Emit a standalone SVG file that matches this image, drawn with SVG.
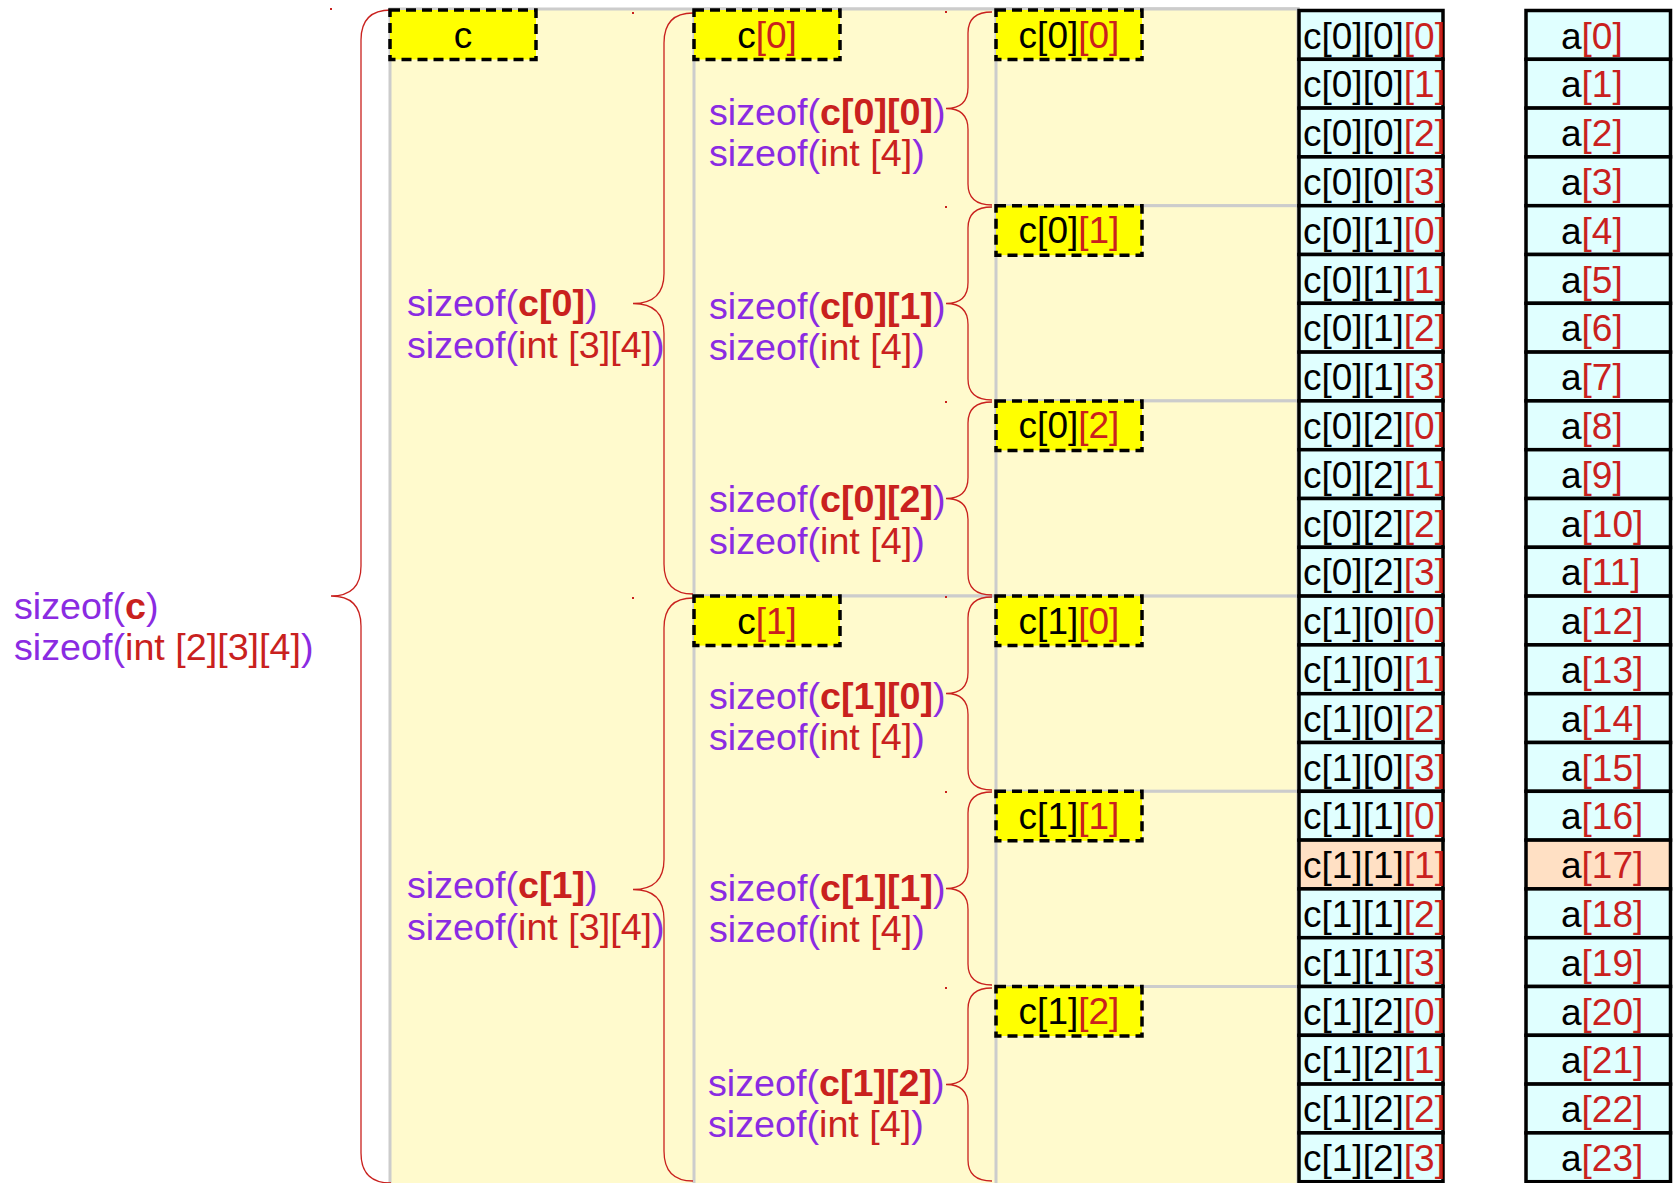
<svg xmlns="http://www.w3.org/2000/svg" width="1674" height="1183" viewBox="0 0 1674 1183">
<defs>
<style>
text{font-family:"Liberation Sans",Arial,sans-serif;font-size:37px;fill:#000}
.p{fill:#8a2be2;font-size:37.7px}
.r{fill:#c9211e}
.b{font-weight:bold}
.cell{fill:#e0ffff;stroke:#000;stroke-width:3.5}
.hl{fill:#ffe0c4;stroke:#000;stroke-width:3.5}
.box{fill:#ffff00;stroke:#000;stroke-width:3.5;stroke-dasharray:10 6}
.bg{fill:#fffacd;stroke:#cccccc;stroke-width:3}
.brace{fill:none;stroke:#c9211e;stroke-width:1.3}
.dot{fill:#c9211e}
.ct{text-anchor:middle}
</style>
</defs>
<rect width="1674" height="1183" fill="#fff"/>

<g id="regions">
<rect class="bg" x="390" y="9" width="908" height="1180"/>
<rect class="bg" x="694" y="9" width="604" height="587"/>
<rect class="bg" x="694" y="596" width="604" height="593"/>
<rect class="bg" x="996" y="9" width="302" height="196.7"/>
<rect class="bg" x="996" y="205.7" width="302" height="195.2"/>
<rect class="bg" x="996" y="400.9" width="302" height="195.2"/>
<rect class="bg" x="996" y="596.1" width="302" height="195.2"/>
<rect class="bg" x="996" y="791.3" width="302" height="195.2"/>
<rect class="bg" x="996" y="986.5" width="302" height="202"/>
</g>

<g id="connectors">
<path class="brace" d="M391,10 Q361,10 361,40 L361,566 Q361,596 331,596 Q361,596 361,626 L361,1153 Q361,1183 391,1183"/>
<path class="brace" d="M693,13 Q664,13 664,43 L664,273.5 Q664,303.5 633,303.5 Q664,303.5 664,333.5 L664,564 Q664,594 693,594"/>
<path class="brace" d="M693,598 Q664,598 664,628 L664,859.5 Q664,889.5 633,889.5 Q664,889.5 664,919.5 L664,1151 Q664,1181 693,1181"/>
<path class="brace" d="M992,12 Q968,12 968,33 L968,87.5 Q968,108.5 946,108.5 Q968,108.5 968,129.5 L968,184 Q968,205 992,205"/>
<path class="brace" d="M992,207 Q968,207 968,228 L968,282.5 Q968,303.5 946,303.5 Q968,303.5 968,324.5 L968,379 Q968,400 992,400"/>
<path class="brace" d="M992,402 Q968,402 968,423 L968,477.5 Q968,498.5 946,498.5 Q968,498.5 968,519.5 L968,574 Q968,595 992,595"/>
<path class="brace" d="M992,597 Q968,597 968,618 L968,672.5 Q968,693.5 946,693.5 Q968,693.5 968,714.5 L968,769 Q968,790 992,790"/>
<path class="brace" d="M992,792 Q968,792 968,813 L968,867.5 Q968,888.5 946,888.5 Q968,888.5 968,909.5 L968,964 Q968,985 992,985"/>
<path class="brace" d="M992,988 Q968,988 968,1009 L968,1063.5 Q968,1084.5 946,1084.5 Q968,1084.5 968,1105.5 L968,1160 Q968,1181 992,1181"/>
<rect class="dot" x="330" y="8" width="2" height="2"/>
<rect class="dot" x="632" y="12" width="2" height="2"/>
<rect class="dot" x="632" y="597" width="2" height="2"/>
<rect class="dot" x="945" y="11" width="2" height="2"/>
<rect class="dot" x="945" y="206" width="2" height="2"/>
<rect class="dot" x="945" y="401" width="2" height="2"/>
<rect class="dot" x="945" y="596" width="2" height="2"/>
<rect class="dot" x="945" y="791" width="2" height="2"/>
<rect class="dot" x="945" y="987" width="2" height="2"/>
</g>

<g id="box-c"><rect class="box" x="390" y="10" width="146" height="49.5"/><text class="ct" x="463" y="47.5">c</text></g>
<g id="box-c0"><rect class="box" x="694" y="10" width="146" height="49.5"/><text class="ct" x="767" y="47.5">c<tspan class="r">[0]</tspan></text></g>
<g id="box-c1"><rect class="box" x="694" y="596.1" width="146" height="49.5"/><text class="ct" x="767" y="633.6">c<tspan class="r">[1]</tspan></text></g>
<g id="box-c00"><rect class="box" x="996" y="10" width="146" height="49.5"/><text class="ct" x="1069" y="47.5">c[0]<tspan class="r">[0]</tspan></text></g>
<g id="box-c01"><rect class="box" x="996" y="205.7" width="146" height="49.5"/><text class="ct" x="1069" y="243.2">c[0]<tspan class="r">[1]</tspan></text></g>
<g id="box-c02"><rect class="box" x="996" y="400.9" width="146" height="49.5"/><text class="ct" x="1069" y="438.4">c[0]<tspan class="r">[2]</tspan></text></g>
<g id="box-c10"><rect class="box" x="996" y="596.1" width="146" height="49.5"/><text class="ct" x="1069" y="633.6">c[1]<tspan class="r">[0]</tspan></text></g>
<g id="box-c11"><rect class="box" x="996" y="791.3" width="146" height="49.5"/><text class="ct" x="1069" y="828.8">c[1]<tspan class="r">[1]</tspan></text></g>
<g id="box-c12"><rect class="box" x="996" y="986.5" width="146" height="49.5"/><text class="ct" x="1069" y="1024">c[1]<tspan class="r">[2]</tspan></text></g>

<g id="label-c"><text class="p" x="14" y="619">sizeof(<tspan class="r b">c</tspan>)</text><text class="p" x="14" y="660">sizeof(<tspan class="r">int [2][3][4]</tspan>)</text></g>
<g id="label-c0"><text class="p" x="407" y="316">sizeof(<tspan class="r b">c[0]</tspan>)</text><text class="p" x="407" y="358">sizeof(<tspan class="r">int [3][4]</tspan>)</text></g>
<g id="label-c1"><text class="p" x="407" y="898">sizeof(<tspan class="r b">c[1]</tspan>)</text><text class="p" x="407" y="940">sizeof(<tspan class="r">int [3][4]</tspan>)</text></g>
<g id="label-c00"><text class="p" x="709" y="125">sizeof(<tspan class="r b">c[0][0]</tspan>)</text><text class="p" x="709" y="166">sizeof(<tspan class="r">int [4]</tspan>)</text></g>
<g id="label-c01"><text class="p" x="709" y="319">sizeof(<tspan class="r b">c[0][1]</tspan>)</text><text class="p" x="709" y="360">sizeof(<tspan class="r">int [4]</tspan>)</text></g>
<g id="label-c02"><text class="p" x="709" y="512">sizeof(<tspan class="r b">c[0][2]</tspan>)</text><text class="p" x="709" y="554">sizeof(<tspan class="r">int [4]</tspan>)</text></g>
<g id="label-c10"><text class="p" x="709" y="709">sizeof(<tspan class="r b">c[1][0]</tspan>)</text><text class="p" x="709" y="750">sizeof(<tspan class="r">int [4]</tspan>)</text></g>
<g id="label-c11"><text class="p" x="709" y="901">sizeof(<tspan class="r b">c[1][1]</tspan>)</text><text class="p" x="709" y="942">sizeof(<tspan class="r">int [4]</tspan>)</text></g>
<g id="label-c12"><text class="p" x="708" y="1096">sizeof(<tspan class="r b">c[1][2]</tspan>)</text><text class="p" x="708" y="1137">sizeof(<tspan class="r">int [4]</tspan>)</text></g>

<g id="mem">
<g id="m0"><rect class="cell" x="1299" y="10.5" width="144" height="48.8"/><text x="1303" y="48.5">c[0][0]<tspan class="r">[0]</tspan></text></g>
<g id="m1"><rect class="cell" x="1299" y="59.3" width="144" height="48.8"/><text x="1303" y="97.3">c[0][0]<tspan class="r">[1]</tspan></text></g>
<g id="m2"><rect class="cell" x="1299" y="108.1" width="144" height="48.8"/><text x="1303" y="146.1">c[0][0]<tspan class="r">[2]</tspan></text></g>
<g id="m3"><rect class="cell" x="1299" y="156.9" width="144" height="48.8"/><text x="1303" y="194.9">c[0][0]<tspan class="r">[3]</tspan></text></g>
<g id="m4"><rect class="cell" x="1299" y="205.7" width="144" height="48.8"/><text x="1303" y="243.7">c[0][1]<tspan class="r">[0]</tspan></text></g>
<g id="m5"><rect class="cell" x="1299" y="254.5" width="144" height="48.8"/><text x="1303" y="292.5">c[0][1]<tspan class="r">[1]</tspan></text></g>
<g id="m6"><rect class="cell" x="1299" y="303.3" width="144" height="48.8"/><text x="1303" y="341.3">c[0][1]<tspan class="r">[2]</tspan></text></g>
<g id="m7"><rect class="cell" x="1299" y="352.1" width="144" height="48.8"/><text x="1303" y="390.1">c[0][1]<tspan class="r">[3]</tspan></text></g>
<g id="m8"><rect class="cell" x="1299" y="400.9" width="144" height="48.8"/><text x="1303" y="438.9">c[0][2]<tspan class="r">[0]</tspan></text></g>
<g id="m9"><rect class="cell" x="1299" y="449.7" width="144" height="48.8"/><text x="1303" y="487.7">c[0][2]<tspan class="r">[1]</tspan></text></g>
<g id="m10"><rect class="cell" x="1299" y="498.5" width="144" height="48.8"/><text x="1303" y="536.5">c[0][2]<tspan class="r">[2]</tspan></text></g>
<g id="m11"><rect class="cell" x="1299" y="547.3" width="144" height="48.8"/><text x="1303" y="585.3">c[0][2]<tspan class="r">[3]</tspan></text></g>
<g id="m12"><rect class="cell" x="1299" y="596.1" width="144" height="48.8"/><text x="1303" y="634.1">c[1][0]<tspan class="r">[0]</tspan></text></g>
<g id="m13"><rect class="cell" x="1299" y="644.9" width="144" height="48.8"/><text x="1303" y="682.9">c[1][0]<tspan class="r">[1]</tspan></text></g>
<g id="m14"><rect class="cell" x="1299" y="693.7" width="144" height="48.8"/><text x="1303" y="731.7">c[1][0]<tspan class="r">[2]</tspan></text></g>
<g id="m15"><rect class="cell" x="1299" y="742.5" width="144" height="48.8"/><text x="1303" y="780.5">c[1][0]<tspan class="r">[3]</tspan></text></g>
<g id="m16"><rect class="cell" x="1299" y="791.3" width="144" height="48.8"/><text x="1303" y="829.3">c[1][1]<tspan class="r">[0]</tspan></text></g>
<g id="m17"><rect class="hl" x="1299" y="840.1" width="144" height="48.8"/><text x="1303" y="878.1">c[1][1]<tspan class="r">[1]</tspan></text></g>
<g id="m18"><rect class="cell" x="1299" y="888.9" width="144" height="48.8"/><text x="1303" y="926.9">c[1][1]<tspan class="r">[2]</tspan></text></g>
<g id="m19"><rect class="cell" x="1299" y="937.7" width="144" height="48.8"/><text x="1303" y="975.7">c[1][1]<tspan class="r">[3]</tspan></text></g>
<g id="m20"><rect class="cell" x="1299" y="986.5" width="144" height="48.8"/><text x="1303" y="1024.5">c[1][2]<tspan class="r">[0]</tspan></text></g>
<g id="m21"><rect class="cell" x="1299" y="1035.3" width="144" height="48.8"/><text x="1303" y="1073.3">c[1][2]<tspan class="r">[1]</tspan></text></g>
<g id="m22"><rect class="cell" x="1299" y="1084.1" width="144" height="48.8"/><text x="1303" y="1122.1">c[1][2]<tspan class="r">[2]</tspan></text></g>
<g id="m23"><rect class="cell" x="1299" y="1132.9" width="144" height="48.8"/><text x="1303" y="1170.9">c[1][2]<tspan class="r">[3]</tspan></text></g>
</g>

<g id="arr">
<g id="a0"><rect class="cell" x="1526" y="10.5" width="144.5" height="48.8"/><text x="1561" y="48.5">a<tspan class="r">[0]</tspan></text></g>
<g id="a1"><rect class="cell" x="1526" y="59.3" width="144.5" height="48.8"/><text x="1561" y="97.3">a<tspan class="r">[1]</tspan></text></g>
<g id="a2"><rect class="cell" x="1526" y="108.1" width="144.5" height="48.8"/><text x="1561" y="146.1">a<tspan class="r">[2]</tspan></text></g>
<g id="a3"><rect class="cell" x="1526" y="156.9" width="144.5" height="48.8"/><text x="1561" y="194.9">a<tspan class="r">[3]</tspan></text></g>
<g id="a4"><rect class="cell" x="1526" y="205.7" width="144.5" height="48.8"/><text x="1561" y="243.7">a<tspan class="r">[4]</tspan></text></g>
<g id="a5"><rect class="cell" x="1526" y="254.5" width="144.5" height="48.8"/><text x="1561" y="292.5">a<tspan class="r">[5]</tspan></text></g>
<g id="a6"><rect class="cell" x="1526" y="303.3" width="144.5" height="48.8"/><text x="1561" y="341.3">a<tspan class="r">[6]</tspan></text></g>
<g id="a7"><rect class="cell" x="1526" y="352.1" width="144.5" height="48.8"/><text x="1561" y="390.1">a<tspan class="r">[7]</tspan></text></g>
<g id="a8"><rect class="cell" x="1526" y="400.9" width="144.5" height="48.8"/><text x="1561" y="438.9">a<tspan class="r">[8]</tspan></text></g>
<g id="a9"><rect class="cell" x="1526" y="449.7" width="144.5" height="48.8"/><text x="1561" y="487.7">a<tspan class="r">[9]</tspan></text></g>
<g id="a10"><rect class="cell" x="1526" y="498.5" width="144.5" height="48.8"/><text x="1561" y="536.5">a<tspan class="r">[10]</tspan></text></g>
<g id="a11"><rect class="cell" x="1526" y="547.3" width="144.5" height="48.8"/><text x="1561" y="585.3">a<tspan class="r">[11]</tspan></text></g>
<g id="a12"><rect class="cell" x="1526" y="596.1" width="144.5" height="48.8"/><text x="1561" y="634.1">a<tspan class="r">[12]</tspan></text></g>
<g id="a13"><rect class="cell" x="1526" y="644.9" width="144.5" height="48.8"/><text x="1561" y="682.9">a<tspan class="r">[13]</tspan></text></g>
<g id="a14"><rect class="cell" x="1526" y="693.7" width="144.5" height="48.8"/><text x="1561" y="731.7">a<tspan class="r">[14]</tspan></text></g>
<g id="a15"><rect class="cell" x="1526" y="742.5" width="144.5" height="48.8"/><text x="1561" y="780.5">a<tspan class="r">[15]</tspan></text></g>
<g id="a16"><rect class="cell" x="1526" y="791.3" width="144.5" height="48.8"/><text x="1561" y="829.3">a<tspan class="r">[16]</tspan></text></g>
<g id="a17"><rect class="hl" x="1526" y="840.1" width="144.5" height="48.8"/><text x="1561" y="878.1">a<tspan class="r">[17]</tspan></text></g>
<g id="a18"><rect class="cell" x="1526" y="888.9" width="144.5" height="48.8"/><text x="1561" y="926.9">a<tspan class="r">[18]</tspan></text></g>
<g id="a19"><rect class="cell" x="1526" y="937.7" width="144.5" height="48.8"/><text x="1561" y="975.7">a<tspan class="r">[19]</tspan></text></g>
<g id="a20"><rect class="cell" x="1526" y="986.5" width="144.5" height="48.8"/><text x="1561" y="1024.5">a<tspan class="r">[20]</tspan></text></g>
<g id="a21"><rect class="cell" x="1526" y="1035.3" width="144.5" height="48.8"/><text x="1561" y="1073.3">a<tspan class="r">[21]</tspan></text></g>
<g id="a22"><rect class="cell" x="1526" y="1084.1" width="144.5" height="48.8"/><text x="1561" y="1122.1">a<tspan class="r">[22]</tspan></text></g>
<g id="a23"><rect class="cell" x="1526" y="1132.9" width="144.5" height="48.8"/><text x="1561" y="1170.9">a<tspan class="r">[23]</tspan></text></g>
</g>
</svg>
